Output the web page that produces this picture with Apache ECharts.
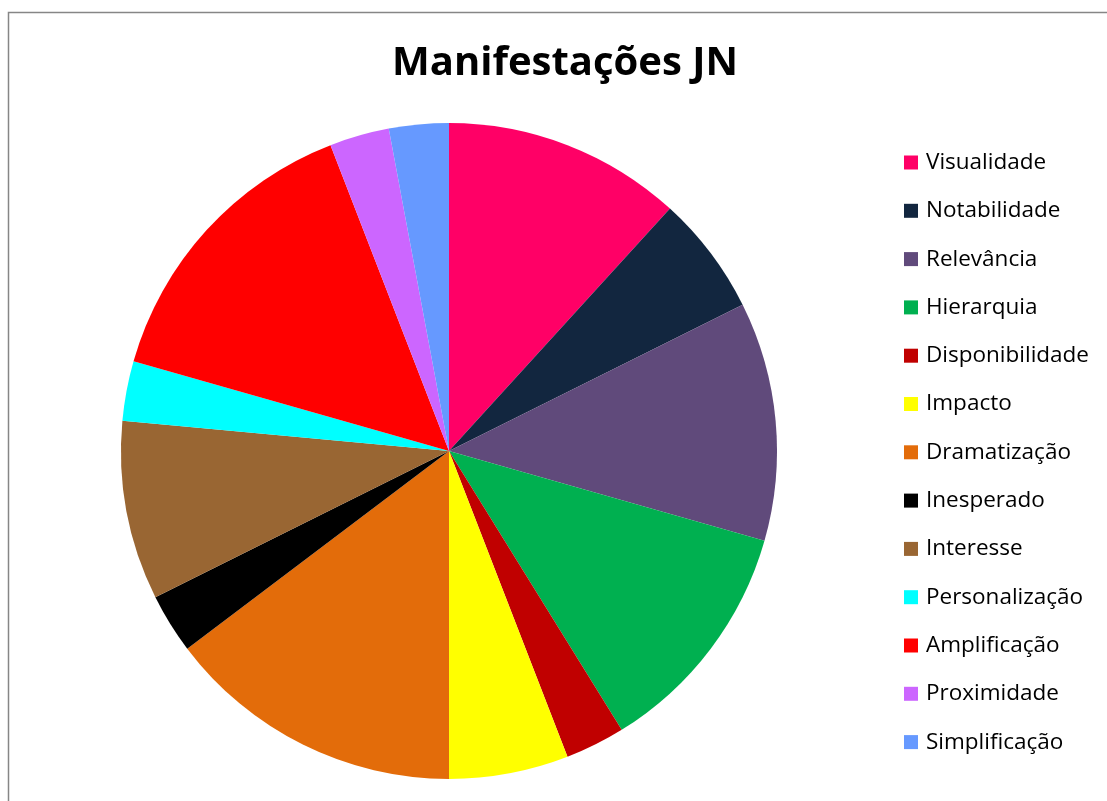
<!DOCTYPE html>
<html>
<head>
<meta charset="utf-8">
<script src="https://cdn.jsdelivr.net/npm/echarts@6/dist/echarts.min.js"></script>
<style>
  html, body { margin: 0; padding: 0; background: #fff; }
  #chart { width: 1107px; height: 801px; }
</style>
</head>
<body>
<div id="chart"></div>
<script>
// Manifestações JN — contagem por critério
const categories = ['Visualidade', 'Notabilidade', 'Relevância', 'Hierarquia', 'Disponibilidade', 'Impacto',
  'Dramatização', 'Inesperado', 'Interesse', 'Personalização', 'Amplificação', 'Proximidade', 'Simplificação'];
const counts = [4, 2, 4, 4, 1, 2, 5, 1, 3, 1, 5, 1, 1];
const sliceColors = ['#FF0066', '#12263F', '#604A7B', '#00B050', '#C00000', '#FFFF00',
  '#E36C0A', '#000000', '#996633', '#00FFFF', '#FF0000', '#CC66FF', '#6699FF'];

const chart = echarts.init(document.getElementById('chart'));
chart.setOption({
  animation: false,
  color: sliceColors,
  graphic: [{
    type: 'rect',
    shape: { x: 8.5, y: 12.5, width: 1120, height: 820 },
    style: { fill: 'none', stroke: '#868686', lineWidth: 1.5 },
    silent: true
  }],
  title: {
    text: 'Manifestações JN',
    left: 560, top: 39, textAlign: 'center',
    textStyle: { fontFamily: 'Open Sans', fontWeight: 'bold', fontSize: 40, color: '#000' }
  },
  legend: {
    orient: 'vertical',
    left: 904, top: 151,
    padding: 0,
    itemWidth: 14, itemHeight: 14, itemGap: 25.3,
    icon: 'rect',
    data: categories,
    textStyle: { fontFamily: 'Open Sans', fontSize: 22.5, color: '#000', lineHeight: 22, padding: [0, 0, 0, 3] }
  },
  series: [{
    type: 'pie',
    center: [449, 451],
    radius: 328,
    startAngle: 90,
    clockwise: true,
    label: { show: false },
    labelLine: { show: false },
    itemStyle: { borderWidth: 0 },
    data: categories.map((name, i) => ({ name, value: counts[i] }))
  }]
});
</script>
</body>
</html>
